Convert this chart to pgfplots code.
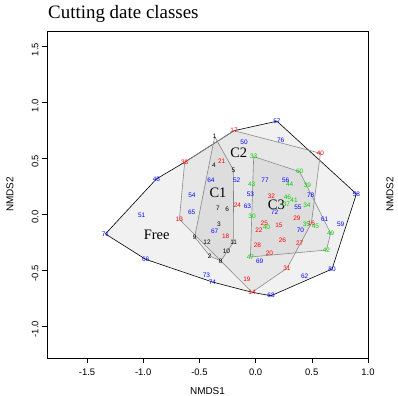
\documentclass[border=0pt]{standalone}
\usepackage{pgfplots}
\pgfplotsset{compat=1.18}
\usepackage{pgfplotstable}
\usepackage{fontspec}
\setmainfont{Liberation Sans}
\newfontfamily\seriffont{Liberation Serif}
\definecolor{rblue}{RGB}{0,0,255}
\definecolor{rred}{RGB}{255,0,0}
\definecolor{rgreen}{RGB}{0,205,0}
\definecolor{hullgray}{RGB}{140,140,140}

\pgfplotstableread{
x y label
-0.364 0.695 1
-0.408 -0.373 2
-0.326 -0.087 3
-0.370 0.441 4
-0.198 0.397 5
-0.254 0.047 6
-0.335 0.054 7
-0.310 -0.418 8
-0.542 -0.203 9
-0.260 -0.335 10
-0.195 -0.248 11
-0.432 -0.252 12
}\blackpts

\pgfplotstableread{
x y label
-0.678 -0.045 13
-0.032 -0.698 14
0.208 -0.098 15
0.496 -0.081 16
-0.192 0.748 17
-0.266 -0.199 18
-0.077 -0.582 19
0.123 -0.353 20
-0.302 0.471 21
0.030 -0.147 22
-0.162 0.081 24
0.077 -0.080 25
0.238 -0.236 26
0.392 -0.260 27
0.016 -0.281 28
0.368 -0.039 29
0.279 -0.483 31
0.141 0.158 32
-0.631 0.466 38
0.577 0.546 40
}\redpts

\pgfplotstableread{
x y label
-0.017 0.516 33
0.457 0.077 34
0.452 -0.087 35
0.274 0.092 37
0.461 0.262 39
0.096 -0.120 40
0.342 0.122 41
0.630 -0.320 42
-0.035 0.269 43
0.303 0.269 44
0.532 -0.111 45
0.283 0.152 46
-0.046 -0.382 47
0.668 -0.170 49
0.392 0.381 60
-0.032 -0.021 30
}\greenpts

\pgfplotstableread{
x y label
-0.883 0.316 48
-0.103 0.647 50
-1.013 -0.009 51
-0.168 0.307 52
-0.046 0.182 53
-0.566 0.173 54
0.377 0.063 55
0.268 0.301 56
0.190 0.833 57
0.897 0.182 58
0.757 -0.090 59
0.615 -0.045 61
0.437 -0.559 62
-0.073 0.074 63
-0.397 0.307 64
-0.569 0.018 65
-0.978 -0.403 66
-0.364 -0.150 67
0.137 -0.729 68
0.036 -0.424 69
0.399 -0.141 70
-1.336 -0.176 71
0.170 0.014 72
-0.438 -0.543 73
-0.384 -0.606 74
0.223 0.665 76
0.084 0.307 77
0.490 0.170 78
0.680 -0.490 80
}\bluepts

\begin{document}
\begin{tikzpicture}
\begin{axis}[
  scale only axis, width=321bp, height=327bp,
  xmin=-1.856, xmax=1.0, ymin=-1.286, ymax=1.64,
  axis line style={black, line width=0.6bp},
  tick pos=left, tick align=outside, major tick length=5bp,
  tick style={black, line width=0.6bp},
  xtick={-1.5,-1,-0.5,0,0.5,1}, xticklabels={-1.5,-1.0,-0.5,0.0,0.5,1.0},
  ytick={-1,-0.5,0,0.5,1,1.5}, yticklabels={-1.0,-0.5,0.0,0.5,1.0,1.5},
  ticklabel style={font=\fontsize{9.5}{10}\selectfont},
  yticklabel style={rotate=90, anchor=south, xshift=-3bp},
  xticklabel style={anchor=north, yshift=-2.5bp},
  /pgf/number format/assume math mode=true,
  clip=false,
]
% hulls
\addplot[draw=black, line width=0.6bp, fill=black, fill opacity=0.055] coordinates {
(-1.336,-0.176) (-0.883,0.316) (-0.631,0.466) (-0.192,0.748) (0.190,0.833)
(0.897,0.182) (0.680,-0.490) (0.137,-0.729) (-0.032,-0.698) (-0.384,-0.606) (-0.978,-0.403)} -- cycle;
\addplot[draw=hullgray, line width=0.6bp, fill=black, fill opacity=0.045] coordinates {
(-0.364,0.695) (-0.198,0.397) (-0.195,-0.248) (-0.310,-0.418) (-0.408,-0.373) (-0.542,-0.203)} -- cycle;
\addplot[draw=hullgray, line width=0.6bp, fill=black, fill opacity=0.045] coordinates {
(-0.631,0.466) (-0.192,0.748) (0.577,0.546) (0.496,-0.081) (0.279,-0.483) (-0.032,-0.698) (-0.678,-0.045)} -- cycle;
\addplot[draw=hullgray, line width=0.6bp, fill=black, fill opacity=0.045] coordinates {
(-0.017,0.516) (0.392,0.381) (0.668,-0.170) (0.630,-0.320) (-0.046,-0.382)} -- cycle;
% point labels
\addplot[draw=none, mark=none, nodes near coords, point meta=explicit symbolic,
  nodes near coords style={anchor=center, inner sep=0pt, text=black, font=\fontsize{6.5}{6.5}\selectfont}]
  table[x=x, y=y, meta=label] {\blackpts};
\addplot[draw=none, mark=none, nodes near coords, point meta=explicit symbolic,
  nodes near coords style={anchor=center, inner sep=0pt, text=rred, font=\fontsize{6.5}{6.5}\selectfont}]
  table[x=x, y=y, meta=label] {\redpts};
\addplot[draw=none, mark=none, nodes near coords, point meta=explicit symbolic,
  nodes near coords style={anchor=center, inner sep=0pt, text=rgreen, font=\fontsize{6.5}{6.5}\selectfont}]
  table[x=x, y=y, meta=label] {\greenpts};
\addplot[draw=none, mark=none, nodes near coords, point meta=explicit symbolic,
  nodes near coords style={anchor=center, inner sep=0pt, text=rblue, font=\fontsize{6.5}{6.5}\selectfont}]
  table[x=x, y=y, meta=label] {\bluepts};
% group labels
\node[font=\seriffont\fontsize{14.5}{14.5}\selectfont] at (axis cs:-0.88,-0.18) {Free};
\node[font=\seriffont\fontsize{14.5}{14.5}\selectfont] at (axis cs:-0.335,0.193) {C1};
\node[font=\seriffont\fontsize{14.5}{14.5}\selectfont] at (axis cs:-0.150,0.551) {C2};
\node[font=\seriffont\fontsize{14.5}{14.5}\selectfont] at (axis cs:0.185,0.083) {C3};
% axis labels and title
\node[font=\fontsize{10}{11}\selectfont] at ([yshift=-33bp]rel axis cs:0.5,0) {NMDS1};
\node[font=\fontsize{10}{11}\selectfont, rotate=90] at ([xshift=-37bp]rel axis cs:0,0.5) {NMDS2};
\node[font=\fontsize{10}{11}\selectfont, rotate=90] at ([xshift=22bp]rel axis cs:1,0.5) {NMDS2};
\node[font=\seriffont\fontsize{19}{20}\selectfont, anchor=base west, inner sep=0pt] at ([xshift=1bp, yshift=12bp]rel axis cs:0,1) {Cutting date classes};
\end{axis}
\pgfresetboundingbox
\path[use as bounding box] ([xshift=-47bp,yshift=-38bp]current axis.south west) rectangle ([xshift=30bp,yshift=31bp]current axis.north east);
\end{tikzpicture}
\end{document}
